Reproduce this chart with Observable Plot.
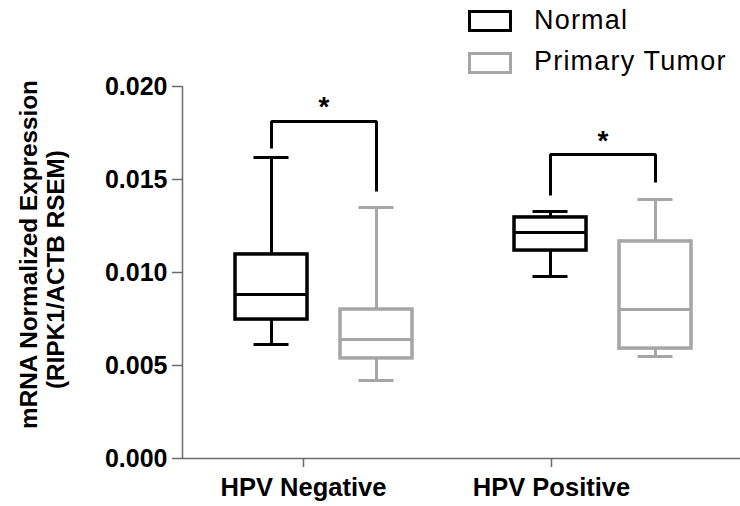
<!DOCTYPE html>
<html>
<head>
<meta charset="utf-8">
<script src="https://cdn.jsdelivr.net/npm/d3@7"></script>
<script src="https://cdn.jsdelivr.net/npm/@observablehq/plot@0.6"></script>
<style>
  body { margin: 0; background: #fff; font-family: "Liberation Sans", Arial, sans-serif; }
  #legend { position: relative; width: 740px; height: 60px; }
  .sw { position: absolute; left: 468px; width: 38px; height: 16px; border: 3px solid #000; box-sizing: content-box; }
  .lab { position: absolute; left: 534px; font-size: 27px; line-height: 27px; letter-spacing: 1.2px; color: #000; white-space: nowrap; }
  #chart svg { display: block; }
</style>
</head>
<body>
<div id="legend"></div>
<div id="chart"></div>
<script>
// ---- data ----
const groups = ["HPV Negative", "HPV Positive"];
const series = ["Normal", "Primary Tumor"];
const seriesColors = ["#000000", "#a6a6a6"];
// box summaries per group: [min, q1, median, q3, max]
const normalStats = [
  [0.00613, 0.00747, 0.00882, 0.01097, 0.01618],
  [0.00978, 0.01118, 0.01215, 0.01296, 0.01328]
];
const tumorStats = [
  [0.00419, 0.00538, 0.00640, 0.00801, 0.01349],
  [0.00548, 0.00591, 0.00801, 0.01167, 0.01392]
];
const significance = ["*", "*"];
const bracketTop = [0.01812, 0.01634];
const bracketLeftEnd = [0.01667, 0.01414];
const bracketRightEnd = [0.01435, 0.01484];
const yTicks = [0, 0.005, 0.010, 0.015, 0.020];
const yTitle = ["mRNA Normalized Expression", "(RIPK1/ACTB RSEM)"];

// ---- layout constants (x in pixel-like units of a linear scale) ----
const FIRST_BOX = 89, SERIES_STEP = 105, GROUP_STEP = 279;
const TICK0 = 121, TICK_STEP = 248;
const HALF_BOX = 36, HALF_CAP = 17.5;
const AXIS_COLOR = "#6b6b6b";

const boxes = [];
groups.forEach((g, gi) => {
  [normalStats, tumorStats].forEach((st, si) => {
    const [min, q1, med, q3, max] = st[gi];
    boxes.push({group: g, series: series[si], cx: FIRST_BOX + gi * GROUP_STEP + si * SERIES_STEP, min, q1, med, q3, max});
  });
});
const bracketPts = [];
const stars = [];
groups.forEach((g, gi) => {
  const l = FIRST_BOX + gi * GROUP_STEP, r = l + SERIES_STEP;
  bracketPts.push({g, x: l, y: bracketLeftEnd[gi]}, {g, x: l, y: bracketTop[gi]}, {g, x: r, y: bracketTop[gi]}, {g, x: r, y: bracketRightEnd[gi]});
  stars.push({x: (l + r) / 2, y: bracketTop[gi], t: significance[gi]});
});
const tickPos = groups.map((g, i) => TICK0 + i * TICK_STEP);

// ---- legend ----
const legend = document.getElementById("legend");
series.forEach((s, i) => {
  const sw = document.createElement("div");
  sw.className = "sw";
  sw.style.top = (10 + i * 42) + "px";
  sw.style.borderColor = seriesColors[i];
  legend.append(sw);
  const lab = document.createElement("div");
  lab.className = "lab";
  lab.style.top = (7 + i * 41) + "px";
  lab.textContent = s;
  legend.append(lab);
});

// ---- chart ----
const common = {stroke: "series", strokeWidth: 3};
const chart = Plot.plot({
  width: 740,
  height: 446,
  marginLeft: 182,
  marginRight: 0,
  marginTop: 26,
  marginBottom: 48,
  x: {type: "linear", domain: [0, 558]},
  y: {domain: [0, 0.02]},
  color: {domain: series, range: seriesColors},
  style: {fontFamily: "'Liberation Sans', Arial, sans-serif", fontWeight: "bold", background: "white", color: "black"},
  marks: [
    Plot.ruleX([0], {y1: 0, y2: 0.02, stroke: AXIS_COLOR, strokeWidth: 1.5}),
    Plot.ruleY([0], {stroke: AXIS_COLOR, strokeWidth: 1.5}),
    Plot.axisY(yTicks, {tickSize: 10, tickPadding: 5, tickFormat: d3.format(".3f"), fontSize: 25, stroke: AXIS_COLOR, strokeWidth: 1.5, fill: "black"}),
    Plot.axisX(tickPos, {tickSize: 9, tickPadding: 10, tickFormat: d => groups[tickPos.indexOf(d)], fontSize: 25.5, stroke: AXIS_COLOR, strokeWidth: 1.5, fill: "black"}),
    Plot.text([yTitle[0]], {text: d => d, frameAnchor: "left", rotate: -90, textAnchor: "middle", lineAnchor: "middle", dx: -153, dy: -18, fontSize: 24.3}),
    Plot.text([yTitle[1]], {text: d => d, frameAnchor: "left", rotate: -90, textAnchor: "middle", lineAnchor: "middle", dx: -126, dy: -3, fontSize: 24.3}),
    Plot.ruleX(boxes, {x: "cx", y1: "min", y2: "q1", ...common}),
    Plot.ruleX(boxes, {x: "cx", y1: "q3", y2: "max", ...common}),
    Plot.ruleY(boxes, {y: "min", x1: d => d.cx - HALF_CAP, x2: d => d.cx + HALF_CAP, ...common}),
    Plot.ruleY(boxes, {y: "max", x1: d => d.cx - HALF_CAP, x2: d => d.cx + HALF_CAP, ...common}),
    Plot.rect(boxes, {x1: d => d.cx - HALF_BOX, x2: d => d.cx + HALF_BOX, y1: "q1", y2: "q3", fill: "white", stroke: "series", strokeWidth: 3.5}),
    Plot.ruleY(boxes, {y: "med", x1: d => d.cx - HALF_BOX, x2: d => d.cx + HALF_BOX, ...common}),
    Plot.line(bracketPts, {x: "x", y: "y", z: "g", stroke: "black", strokeWidth: 3, strokeLinejoin: "miter", strokeLinecap: "butt"}),
    Plot.text(stars, {x: "x", y: "y", text: "t", dy: -5, lineAnchor: "bottom", fontSize: 28})
  ]
});
document.getElementById("chart").append(chart);
</script>
</body>
</html>
